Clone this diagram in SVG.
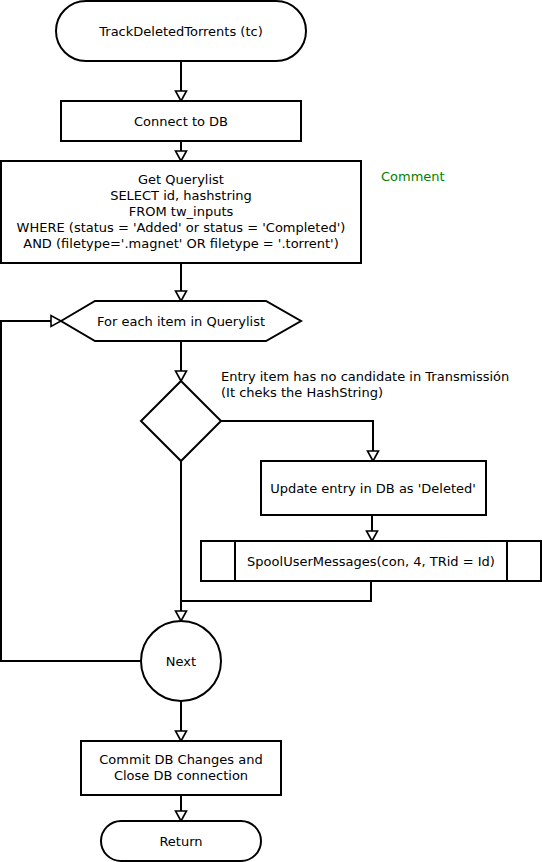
<svg xmlns="http://www.w3.org/2000/svg" width="542" height="862" viewBox="0 0 542 862">
<defs>
<style>
.s{fill:#fff;stroke:#000;stroke-width:2}
.c{fill:none;stroke:#000;stroke-width:2;marker-end:url(#ar)}
.n{fill:none;stroke:#000;stroke-width:2}
text{font-family:"DejaVu Sans","Liberation Sans",sans-serif;font-size:13px;fill:#000}
.m{text-anchor:middle}
.g{fill:#008000}
</style>
<marker id="ar" markerUnits="userSpaceOnUse" markerWidth="14" markerHeight="14" viewBox="-12 -7 14 14" refX="0" refY="0" orient="auto">
<path d="M0,0 L-10,-5.5 L-10,5.5 Z" fill="#fff" stroke="#000" stroke-width="1.6" stroke-linejoin="miter"/>
</marker>
</defs>
<rect width="542" height="862" fill="#fff"/>
<g id="connectors">
<path class="c" d="M181,61 V101"/>
<path class="c" d="M181,141 V161"/>
<path class="c" d="M181,263 V301"/>
<path class="c" d="M181,341 V381"/>
<path class="c" d="M221,421 H373 V461"/>
<path class="c" d="M372,515 V541"/>
<path class="n" d="M371,581 V601 H181"/>
<path class="c" d="M181,461 V621"/>
<path class="c" d="M141,661 H1 V321 H61"/>
<path class="c" d="M181,701 V741"/>
<path class="c" d="M181,795 V821"/>
</g>
<g id="start">
<rect class="s" x="56" y="1" width="250" height="60" rx="30" ry="30"/>
<text class="m" x="181" y="35.5">TrackDeletedTorrents (tc)</text>
</g>
<g id="connect">
<rect class="s" x="61" y="101" width="240" height="40"/>
<text class="m" x="181" y="125.5">Connect to DB</text>
</g>
<g id="query">
<rect class="s" x="1" y="161" width="360" height="102"/>
<text class="m" x="181" y="183.5">Get Querylist</text>
<text class="m" x="181" y="199.5">SELECT id, hashstring</text>
<text class="m" x="181" y="215.5">FROM tw_inputs</text>
<text class="m" x="181" y="231.5">WHERE (status = 'Added' or status = 'Completed')</text>
<text class="m" x="181" y="247.5">AND (filetype='.magnet' OR filetype = '.torrent')</text>
</g>
<g id="comment">
<text class="g" x="381" y="180.5">Comment</text>
</g>
<g id="loop">
<polygon class="s" points="61,321 95,301 266,301 301,321 266,341 95,341"/>
<text class="m" x="181" y="325.5">For each item in Querylist</text>
</g>
<g id="decision">
<polygon class="s" points="181,381 221,421 181,461 141,421"/>
<text x="221" y="380.5">Entry item has no candidate in Transmissión</text>
<text x="221" y="396.5">(It cheks the HashString)</text>
</g>
<g id="update">
<rect class="s" x="261" y="461" width="225" height="54"/>
<text class="m" x="373" y="492.5">Update entry in DB as 'Deleted'</text>
</g>
<g id="spool">
<rect class="s" x="201" y="541" width="340" height="40"/>
<path class="n" d="M235,541 V581 M507,541 V581"/>
<text class="m" x="371" y="565.5">SpoolUserMessages(con, 4, TRid = Id)</text>
</g>
<g id="next">
<circle class="s" cx="181" cy="661" r="40"/>
<text class="m" x="181" y="665.5">Next</text>
</g>
<g id="commit">
<rect class="s" x="81" y="741" width="200" height="54"/>
<text class="m" x="181" y="763.5">Commit DB Changes and</text>
<text class="m" x="181" y="779.5">Close DB connection</text>
</g>
<g id="return">
<rect class="s" x="101" y="821" width="160" height="40" rx="20" ry="20"/>
<text class="m" x="181" y="845.5">Return</text>
</g>
</svg>
